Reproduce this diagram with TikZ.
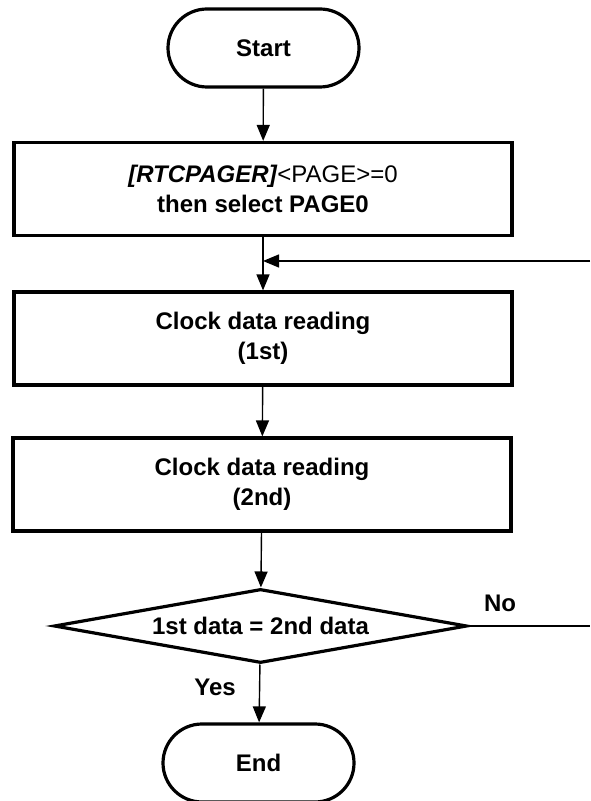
\documentclass[tikz,border=0pt]{standalone}
\usepackage{fontspec}
\setmainfont{Liberation Sans}
\usetikzlibrary{positioning}
\usetikzlibrary{shapes.geometric}
\usetikzlibrary{arrows.meta}

\begin{document}
\begin{tikzpicture}[x=0.5pt,y=-0.5pt,
    every node/.style={font=\fontsize{12}{15}\selectfont\bfseries},
    term/.style={draw,line width=1.6pt,rounded corners=19.5pt,minimum width=95.5pt,minimum height=39pt},
    proc/.style={draw,line width=1.6pt,minimum width=249pt,minimum height=46.5pt,align=center},
    cond/.style={draw,line width=1.6pt,diamond,aspect=5.6,inner sep=0pt,minimum width=206.5pt,minimum height=37pt},
    flow/.style={line width=0.7pt,-{Triangle[width=6.5pt,length=8pt]}}]
  \useasboundingbox (0, 0) rectangle (590, 801);

  % steps
  \node[term] (start) at (263.5, 48) {Start};
  \node[proc] (page) at (263, 189) {\textit{[RTCPAGER]}\textmd{<PAGE>=0}\\ then select PAGE0};
  \node[proc] (read1) at (263, 338.5) {Clock data reading\\ (1st)};
  \node[proc] (read2) at (262, 484.5) {Clock data reading\\ (2nd)};
  \node[cond] (check) at (260.5, 626) {1st data = 2nd data};
  \node[term] (end) at (258.5, 763) {End};

  % arrows
  \coordinate (join) at (263, 261);
  \coordinate (back) at (590, 261);
  \coordinate (out) at (590, 626);
  \draw[flow] (start) -- (page);
  \draw[flow] (page) -- (read1);
  \draw[flow] (back) -- (join);
  \draw[flow] (read1) -- (read2);
  \draw[flow] (read2) -- (check);
  \draw[flow] (check) -- (end);
  \draw[line width=0.7pt] (check.east) -- (out);

  % labels
  \node (yes) at (215, 687) {Yes};
  \node (no) at (500, 603) {No};
\end{tikzpicture}
\end{document}
